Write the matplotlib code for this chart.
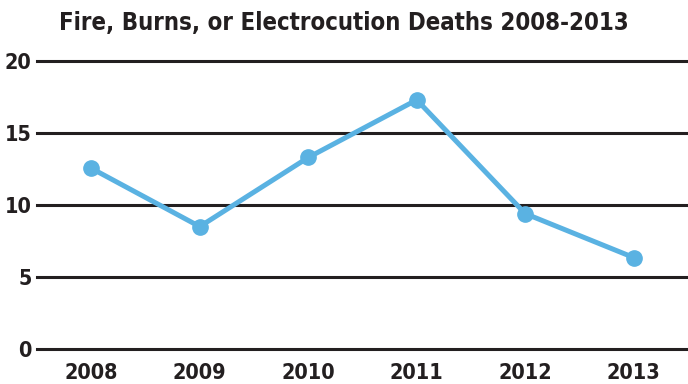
import matplotlib
matplotlib.use("Agg")
import matplotlib.pyplot as plt
from matplotlib import font_manager

###Data
years = ["2008", "2009", "2010", "2011", "2012", "2013"]
deaths = [12.55, 8.5, 13.3, 17.3, 9.4, 6.35]
yticks = [0, 5, 10, 15, 20]

###Font: a narrow bold face if one is installed
narrow = [f for f in font_manager.fontManager.ttflist
          if f.stretch in ("condensed", "semi-condensed", "extra-condensed")
          or "Condensed" in f.name or "Narrow" in f.name]
if narrow:
    family = narrow[0].name
    stretch = narrow[0].stretch
    tsize, lsize = 17.2, 15.5
else:
    family = "DejaVu Sans"
    stretch = "normal"
    tsize, lsize = 15, 13
plt.rcParams["font.family"] = family
plt.rcParams["font.stretch"] = stretch
plt.rcParams["font.weight"] = "bold"

fig = plt.figure(figsize=(6.88, 3.84), dpi=100)
ax = fig.add_axes([37/688, 35/384, 1 - 37/688, 288/384])

xpos = range(len(years))
ax.plot(xpos, deaths, color="#5AB2E2", lw=3.6, marker="o", ms=11,
        solid_capstyle="round", zorder=3)

ax.set_xlim(-0.5, len(years) - 0.5)
ax.set_ylim(0, 20)
ax.set_yticks(yticks)
ax.set_xticks(list(xpos))
ax.set_xticklabels(years)
for y in yticks:
    ax.axhline(y, color="#231F20", lw=2.2, zorder=2, clip_on=False)

for s in ax.spines.values():
    s.set_visible(False)
ax.tick_params(axis="both", length=0, labelsize=lsize, colors="#231F20")
ax.tick_params(axis="y", pad=4)
ax.tick_params(axis="x", pad=10)

fig.text(0.5, 0.94, "Fire, Burns, or Electrocution Deaths 2008-2013",
         ha="center", va="center", fontsize=tsize, fontweight="bold",
         fontstretch=stretch, color="#231F20")

fig.savefig("out.png", dpi=100)
